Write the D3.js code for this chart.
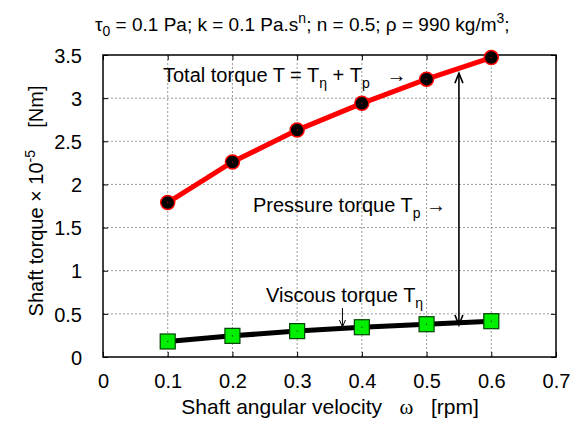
<!DOCTYPE html>
<html><head><meta charset="utf-8">
<script src="https://cdn.jsdelivr.net/npm/d3@7"></script>
<style>body{margin:0;background:#fff}svg{display:block}text,tspan{font-family:"Liberation Sans",Arial,sans-serif;fill:#000}</style>
</head><body><svg id="c" width="573" height="430"></svg>
<script>
const omega = [0.1, 0.2, 0.3, 0.4, 0.5, 0.6];
const totalTorque = [1.79, 2.26, 2.63, 2.94, 3.22, 3.47];
const viscousTorque = [0.18, 0.245, 0.30, 0.345, 0.38, 0.415];
const xTicks = [0, 0.1, 0.2, 0.3, 0.4, 0.5, 0.6, 0.7];
const yTicks = [0, 0.5, 1, 1.5, 2, 2.5, 3, 3.5];
const arrowOmega = 0.55, arrowFrom = 0.37, arrowTo = 3.29;

const svg = d3.select("#c");
const L = 103, R = 556, T = 55, B = 357;
const x = d3.scaleLinear().domain([0, 0.7]).range([L, R]);
const y = d3.scaleLinear().domain([0, 3.5]).range([B, T]);
const NB = "\u00a0";

// grid
const g = svg.append("g");
g.selectAll(".vx").data(xTicks.slice(1, -1)).enter().append("line")
  .attr("x1", d => x(d)).attr("x2", d => x(d)).attr("y1", T).attr("y2", B)
  .attr("stroke", "#999").attr("stroke-width", 1).attr("stroke-dasharray", "2,2");
g.selectAll(".hy").data(yTicks.slice(1, -1)).enter().append("line")
  .attr("y1", d => y(d)).attr("y2", d => y(d)).attr("x1", L).attr("x2", R)
  .attr("stroke", "#999").attr("stroke-width", 1).attr("stroke-dasharray", "2,2");

// axes with inward ticks
const xa = svg.append("g").attr("transform", `translate(0,${B})`)
  .call(d3.axisBottom(x).tickValues(xTicks).tickSize(-5).tickFormat(d3.format("")));
const xa2 = svg.append("g").attr("transform", `translate(0,${T})`)
  .call(d3.axisTop(x).tickValues(xTicks).tickSize(-5).tickFormat(""));
const ya = svg.append("g").attr("transform", `translate(${L},0)`)
  .call(d3.axisLeft(y).tickValues(yTicks).tickSize(-5).tickFormat(d3.format("")));
const ya2 = svg.append("g").attr("transform", `translate(${R},0)`)
  .call(d3.axisRight(y).tickValues(yTicks).tickSize(-5).tickFormat(""));
[xa, xa2, ya, ya2].forEach(a => {
  a.select(".domain").remove();
  a.selectAll("line").attr("stroke", "#000");
  a.selectAll("text").attr("fill", "#000").style("font-size", "20px").style("font-family", "Liberation Sans, Arial, sans-serif");
});
xa.selectAll("text").attr("dy", null).attr("y", 31);
ya.selectAll("text").attr("x", -21).attr("dy", "0.36em");
svg.append("rect").attr("x", L).attr("y", T).attr("width", R - L).attr("height", B - T)
  .attr("fill", "none").attr("stroke", "#000").attr("stroke-width", 1.5);

// lines
const line = d3.line().x(d => x(d[0])).y(d => y(d[1]));
const tot = omega.map((o, i) => [o, totalTorque[i]]);
const vis = omega.map((o, i) => [o, viscousTorque[i]]);
svg.append("path").attr("d", line(tot)).attr("fill", "none").attr("stroke", "#ff0000").attr("stroke-width", 5);
svg.append("path").attr("d", line(vis)).attr("fill", "none").attr("stroke", "#000").attr("stroke-width", 5);

svg.selectAll(".ct").data(tot).enter().append("circle")
  .attr("cx", d => x(d[0])).attr("cy", d => y(d[1])).attr("r", 7)
  .attr("fill", "#000").attr("stroke", "#ff0000").attr("stroke-width", 1.5);
svg.selectAll(".cd").data(tot).enter().append("rect")
  .attr("x", d => x(d[0]) - 0.5).attr("y", d => y(d[1]) - 0.5).attr("width", 1).attr("height", 1).attr("fill", "#ff0000");
svg.selectAll(".sq").data(vis).enter().append("rect")
  .attr("x", d => x(d[0]) - 7.5).attr("y", d => y(d[1]) - 7.5).attr("width", 15).attr("height", 15)
  .attr("fill", "#00ee00").attr("stroke", "#004400").attr("stroke-width", 1.2);
svg.selectAll(".sd").data(vis).enter().append("rect")
  .attr("x", d => x(d[0]) - 0.5).attr("y", d => y(d[1]) - 0.5).attr("width", 1).attr("height", 1).attr("fill", "#000");

// double arrow
const ax = x(arrowOmega);
svg.append("line").attr("x1", ax).attr("x2", ax).attr("y1", y(arrowTo) + 1).attr("y2", y(arrowFrom) - 1)
  .attr("stroke", "#000").attr("stroke-width", 1.6);
svg.append("path").attr("d", `M${ax-4},${y(arrowTo)+10} L${ax},${y(arrowTo)} L${ax+4},${y(arrowTo)+10}`)
  .attr("fill", "none").attr("stroke", "#000").attr("stroke-width", 1.6);
svg.append("path").attr("d", `M${ax-4},${y(arrowFrom)-10} L${ax},${y(arrowFrom)} L${ax+4},${y(arrowFrom)-10}`)
  .attr("fill", "none").attr("stroke", "#000").attr("stroke-width", 1.6);

// small arrow for viscous
const vx = x(0.37);
svg.append("line").attr("x1", vx).attr("x2", vx).attr("y1", 308).attr("y2", 327).attr("stroke", "#000").attr("stroke-width", 1);
svg.append("path").attr("d", `M${vx-3},${320} L${vx},${327} L${vx+3},${320}`).attr("fill", "none").attr("stroke", "#000").attr("stroke-width", 1);

// annotations
const fs = "20px", ss = "14px";
const t1 = svg.append("text").attr("x", 163).attr("y", 82).attr("fill", "#000").style("font-size", fs);
t1.append("tspan").text("Total torque T = T");
t1.append("tspan").text("η").attr("dy", 6).style("font-size", ss);
t1.append("tspan").text(" + T").attr("dy", -6);
t1.append("tspan").text("p").attr("dy", 6).style("font-size", ss);
t1.append("tspan").text(NB + NB + NB + "→").attr("dy", -6);

const t2 = svg.append("text").attr("x", 253).attr("y", 212).attr("fill", "#000").style("font-size", fs);
t2.append("tspan").text("Pressure torque T");
t2.append("tspan").text("p").attr("dy", 6).style("font-size", ss);
t2.append("tspan").text(NB + "→").attr("dy", -6);

const t3 = svg.append("text").attr("x", 266).attr("y", 302).attr("fill", "#000").style("font-size", fs);
t3.append("tspan").text("Viscous torque T");
t3.append("tspan").text("η").attr("dy", 6).style("font-size", ss);

// title
const tt = svg.append("text").attr("x", 95).attr("y", 31).attr("fill", "#000").style("font-size", "19px");
tt.append("tspan").text("τ");
tt.append("tspan").text("0").attr("dy", 5).style("font-size", ss);
tt.append("tspan").text(" = 0.1 Pa; k = 0.1 Pa.s").attr("dy", -5);
tt.append("tspan").text("n").attr("dy", -8).style("font-size", ss);
tt.append("tspan").text("; n = 0.5; ρ = 990 kg/m").attr("dy", 8);
tt.append("tspan").text("3").attr("dy", -8).style("font-size", ss);
tt.append("tspan").text(";").attr("dy", 8);

// axis titles
const xl = svg.append("text").attr("x", 330).attr("y", 414).attr("text-anchor", "middle").attr("fill", "#000").style("font-size", "21px");
xl.append("tspan").text("Shaft angular velocity" + NB + NB + NB);
xl.append("tspan").text("ω").style("font-family", "Liberation Serif, serif");
xl.append("tspan").text(NB + NB + NB + "[rpm]");

const yl = svg.append("text").attr("transform", "translate(43,201) rotate(-90)").attr("text-anchor", "middle").attr("fill", "#000").style("font-size", "20px");
yl.append("tspan").text("Shaft torque × 10");
yl.append("tspan").text("-5").attr("dy", -8).style("font-size", ss);
yl.append("tspan").text(NB + NB + NB + NB + "[Nm]").attr("dy", 8);
</script></body></html>
